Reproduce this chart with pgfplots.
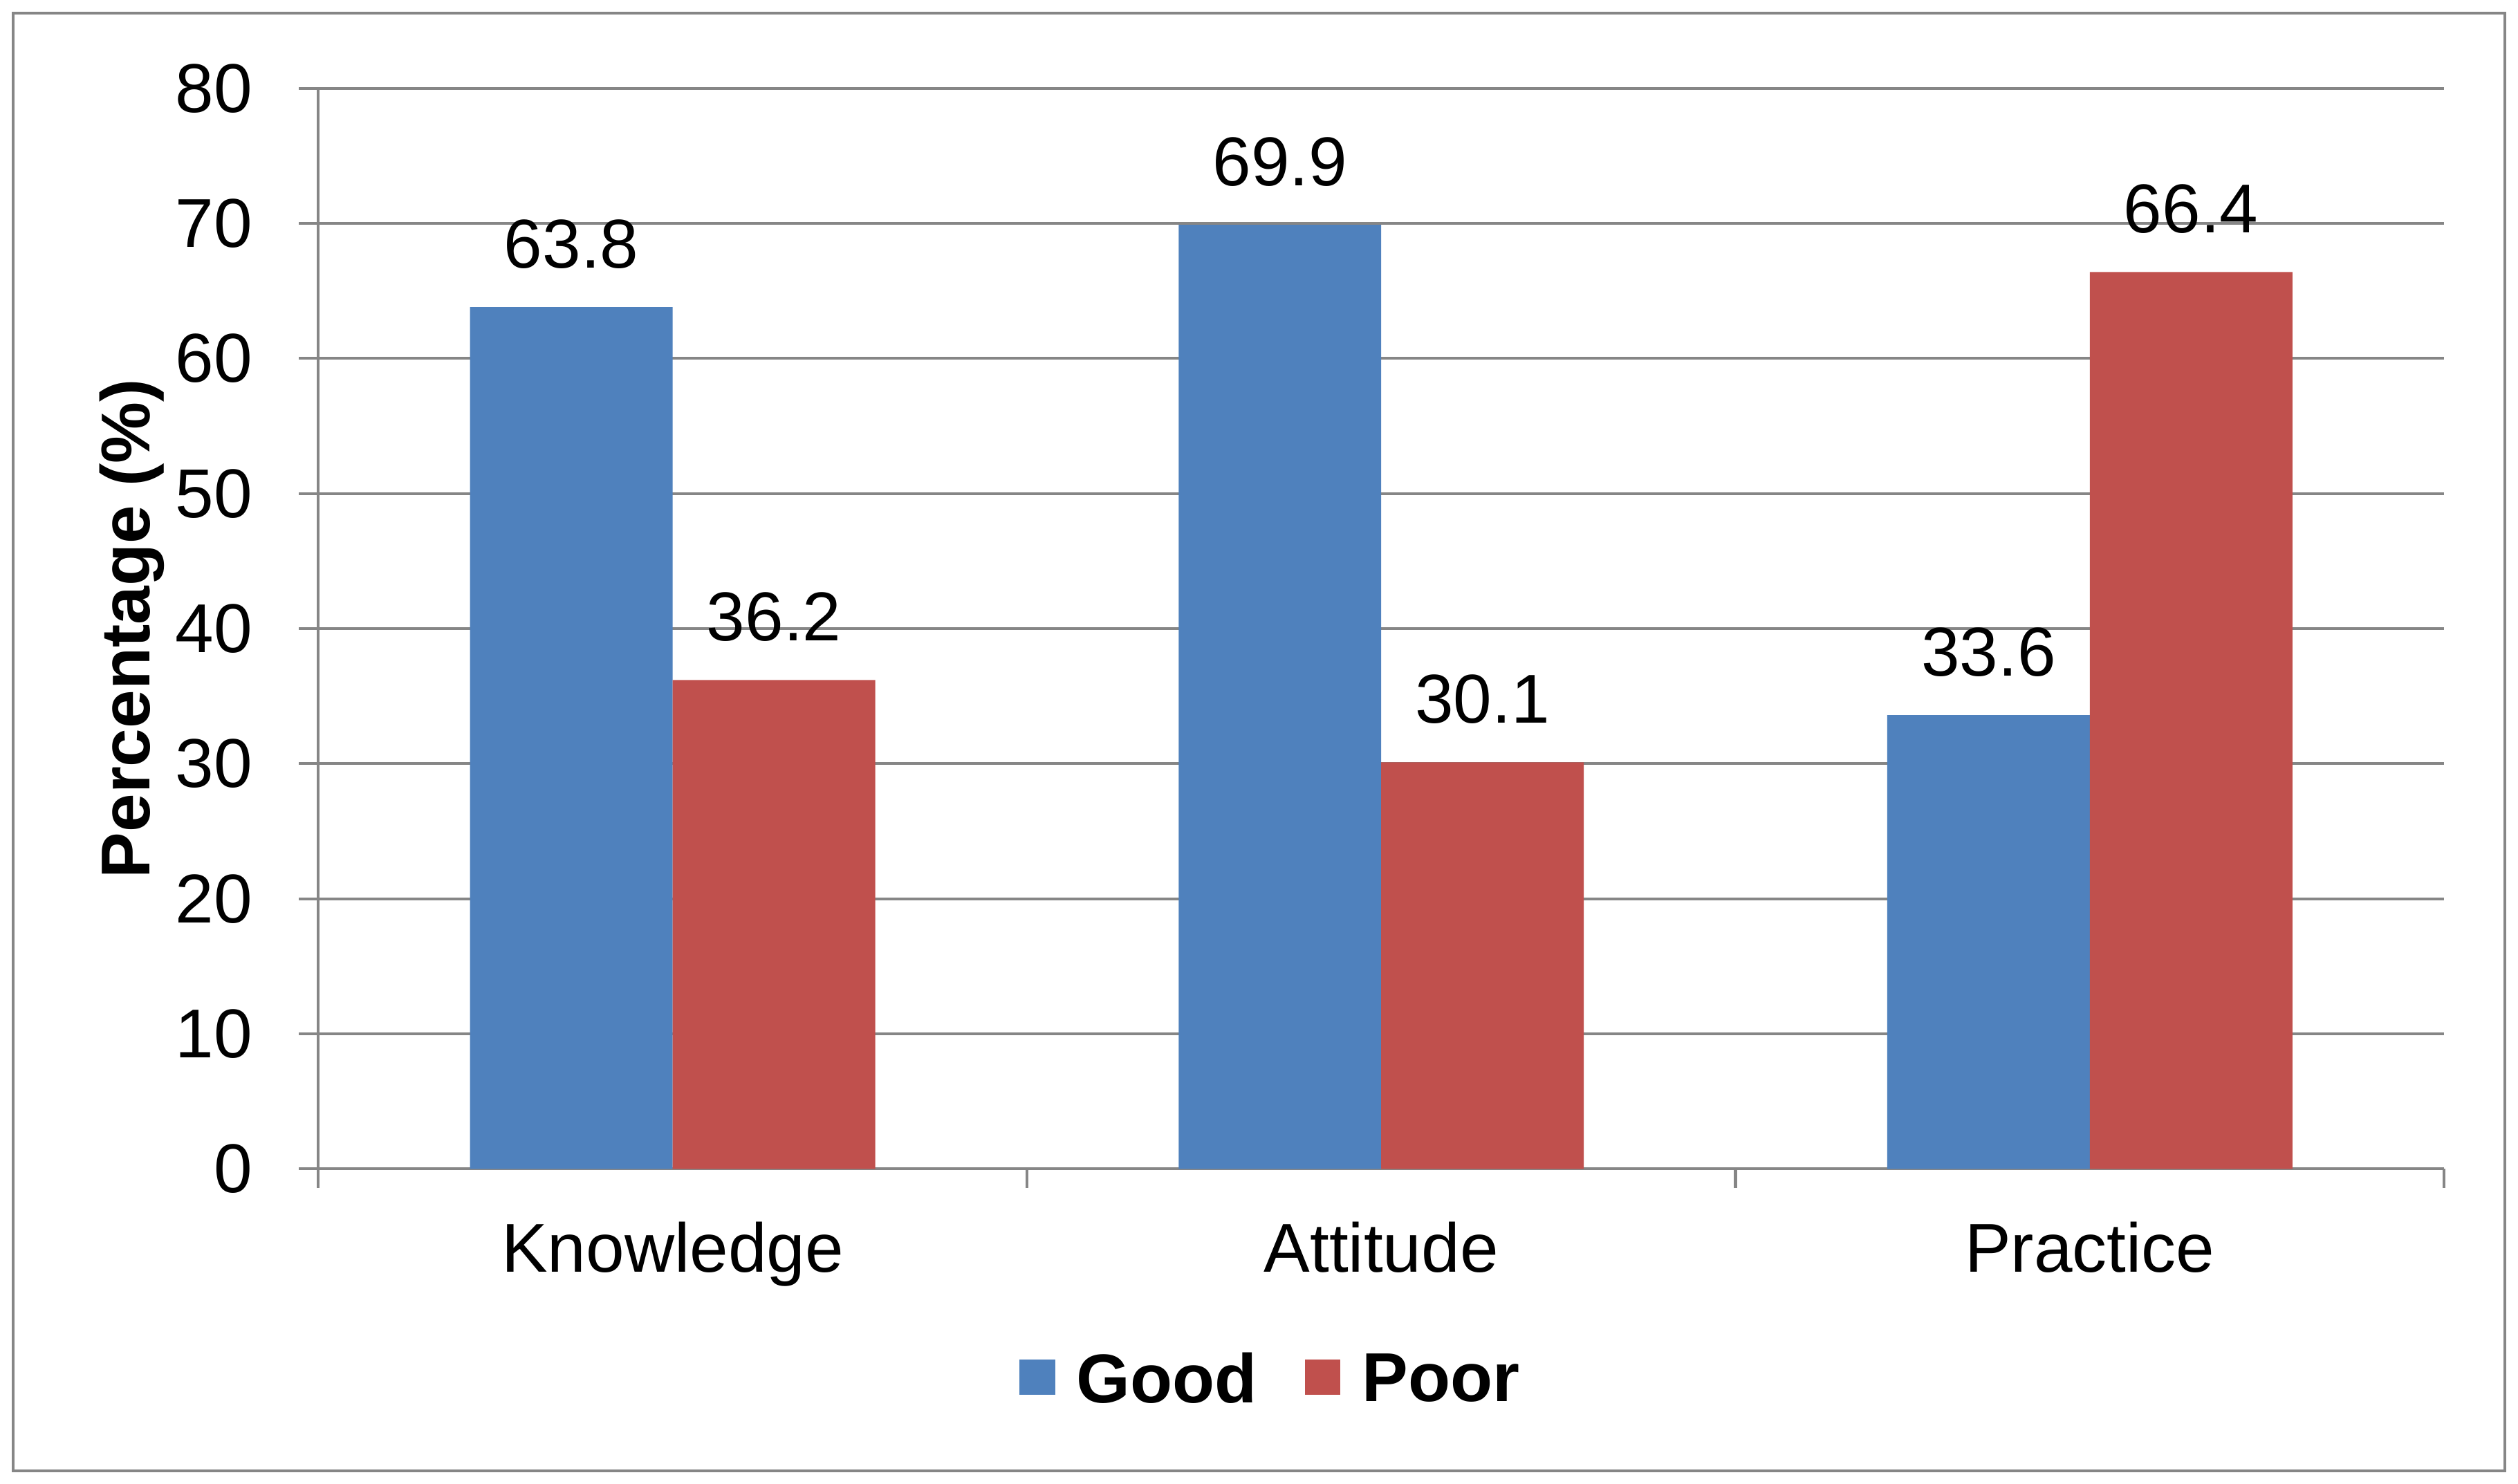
\documentclass[border=0pt]{standalone}
\usepackage{pgfplots}
\pgfplotsset{compat=1.18}
\usepackage{fontspec}
\setmainfont{Liberation Sans}
\definecolor{goodblue}{HTML}{4F81BD}
\definecolor{poorred}{HTML}{C0504D}
\definecolor{linegray}{HTML}{868686}
\begin{document}
\fontsize{12.9}{15.5}\selectfont
\begin{tikzpicture}
\begin{axis}[
  name=ax,
  width=396.6pt, height=201.6pt, scale only axis,
  ybar=0pt, bar width=37.8pt,
  xmin=-0.5, xmax=2.5, ymin=0, ymax=80,
  ytick={0,10,...,80},
  xtick={-0.5,0.5,1.5,2.5}, xticklabels={},
  extra x ticks={0,1,2},
  extra x tick labels={Knowledge,Attitude,Practice},
  extra x tick style={grid=none, major tick length=0pt,
    xticklabel style={yshift=-5.4pt}},
  axis x line*=bottom, axis y line*=left,
  axis line style={-, draw=linegray, line width=0.52pt},
  tick style={draw=linegray, line width=0.52pt},
  major tick length=3.6pt,
  tick align=outside,
  ymajorgrids, grid style={draw=linegray, line width=0.52pt},
  /pgf/number format/assume math mode=true,
  tick label style={font=\fontsize{12.9}{15.5}\selectfont},
  yticklabel style={xshift=-4.2pt},
  ylabel={\textbf{Percentage (\%)}},
  ylabel style={at={(axis description cs:-0.0877,0.5)}, anchor=center},
  nodes near coords,
  nodes near coords style={anchor=south, inner sep=0pt, yshift=7pt,
    font=\fontsize{12.9}{15.5}\selectfont,
    /pgf/number format/fixed, /pgf/number format/precision=1,
    /pgf/number format/fixed zerofill},
  legend style={at={(axis description cs:0.45,-0.198)}, anchor=center,
    draw=none, font=\fontsize{12.9}{15.5}\selectfont\bfseries,
    /tikz/every odd column/.append style={column sep=2pt},
    /tikz/every even column/.append style={column sep=7pt}},
  legend columns=-1,
  legend image code/.code={\fill[#1, draw=none] (0pt,-2.3pt) rectangle (6.6pt,4.3pt);},
]
\addplot[fill=goodblue, draw=none] coordinates {(0,63.8) (1,69.9) (2,33.6)};
\addlegendentry{Good}
\addplot[fill=poorred, draw=none] coordinates {(0,36.2) (1,30.1) (2,66.4)};
\addlegendentry{Poor}
\end{axis}
\draw[linegray, line width=0.52pt] ([shift={(-57pt,-56.4pt)}]ax.south west) rectangle ([shift={(11.4pt,14.1pt)}]ax.north east);
\path ([shift={(-59.4pt,-58.8pt)}]ax.south west) rectangle ([shift={(13.8pt,16.5pt)}]ax.north east);
\end{tikzpicture}
\end{document}
